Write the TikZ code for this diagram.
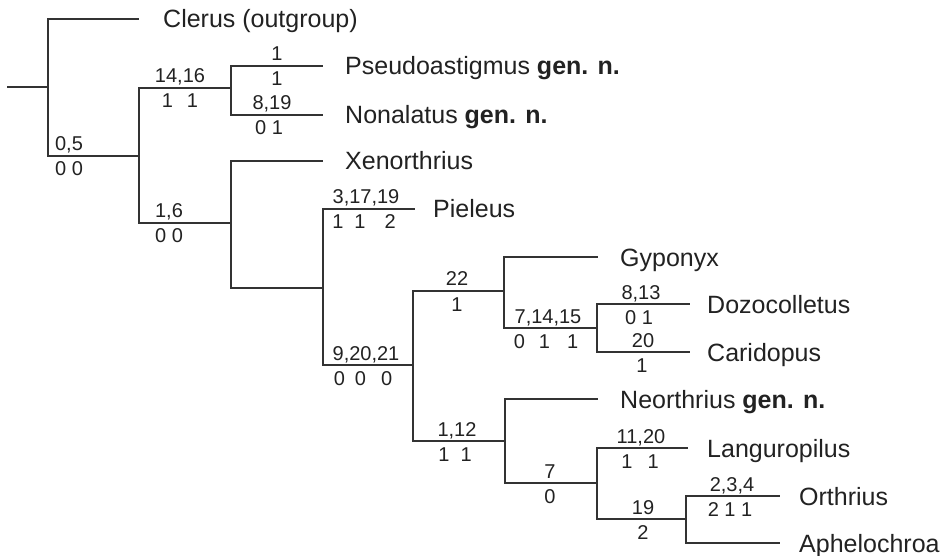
\documentclass[tikz,border=0pt]{standalone}
\usepackage{fontspec}
\setmainfont{Liberation Sans}
\definecolor{ink}{HTML}{333333}
\definecolor{txt}{HTML}{222222}
\begin{document}
\begin{tikzpicture}[x=1pt,y=-1pt,
  br/.style={draw=ink,line width=1.6pt},
  taxon/.style={anchor=base west,inner sep=0pt,text=txt,font=\fontsize{25}{30}\selectfont},
  num/.style={anchor=base,inner sep=0pt,text=txt,font=\fontsize{20}{24}\selectfont}]
\useasboundingbox[fill=white] (0,0) rectangle (948,556);
% internal nodes
\coordinate (r0) at (7,87);
\coordinate (n0) at (48,87);
\coordinate (n1) at (139,156);
\coordinate (n2) at (231,88);
\coordinate (n3) at (231,223);
\coordinate (n4) at (323,288);
\coordinate (n5) at (413,365);
\coordinate (n6) at (504,291);
\coordinate (n8) at (597,328);
\coordinate (n7) at (505,441);
\coordinate (n9) at (597,483);
\coordinate (n10) at (686,519);
% leaf ends
\coordinate (lClerus) at (139,19);
\coordinate (lPseudo) at (323,66);
\coordinate (lNonal) at (323,115);
\coordinate (lXeno) at (323,161);
\coordinate (lPiel) at (415,209);
\coordinate (lGypo) at (598,257);
\coordinate (lDozo) at (690,304);
\coordinate (lCari) at (690,352);
\coordinate (lNeor) at (598,399);
\coordinate (lLang) at (688,448);
\coordinate (lOrth) at (780,496);
\coordinate (lAphe) at (780,543);
% branches
\draw[br] (r0) -- (n0);
\draw[br] (n0) |- (lClerus);
\draw[br] (n0) |- (n1);
\draw[br] (n1) |- (n2);
\draw[br] (n1) |- (n3);
\draw[br] (n2) |- (lPseudo);
\draw[br] (n2) |- (lNonal);
\draw[br] (n3) |- (lXeno);
\draw[br] (n3) |- (n4);
\draw[br] (n4) |- (lPiel);
\draw[br] (n4) |- (n5);
\draw[br] (n5) |- (n6);
\draw[br] (n5) |- (n7);
\draw[br] (n6) |- (lGypo);
\draw[br] (n6) |- (n8);
\draw[br] (n8) |- (lDozo);
\draw[br] (n8) |- (lCari);
\draw[br] (n7) |- (lNeor);
\draw[br] (n7) |- (n9);
\draw[br] (n9) |- (lLang);
\draw[br] (n9) |- (n10);
\draw[br] (n10) |- (lOrth);
\draw[br] (n10) |- (lAphe);
% taxa
\node[taxon] (tClerus) at ([xshift=24pt,yshift=-9pt]lClerus) {Clerus (outgroup)};
\node[taxon] (tPseudo) at ([xshift=22pt,yshift=-9pt]lPseudo) {Pseudoastigmus \textbf{gen. n.}};
\node[taxon] (tNonal) at ([xshift=22pt,yshift=-9pt]lNonal) {Nonalatus \textbf{gen. n.}};
\node[taxon] (tXeno) at ([xshift=22pt,yshift=-9pt]lXeno) {Xenorthrius};
\node[taxon] (tPiel) at ([xshift=18pt,yshift=-9pt]lPiel) {Pieleus};
\node[taxon] (tGypo) at ([xshift=22pt,yshift=-9pt]lGypo) {Gyponyx};
\node[taxon] (tDozo) at ([xshift=17pt,yshift=-9pt]lDozo) {Dozocolletus};
\node[taxon] (tCari) at ([xshift=17pt,yshift=-9pt]lCari) {Caridopus};
\node[taxon] (tNeor) at ([xshift=22pt,yshift=-9pt]lNeor) {Neorthrius \textbf{gen. n.}};
\node[taxon] (tLang) at ([xshift=19pt,yshift=-9pt]lLang) {Languropilus};
\node[taxon] (tOrth) at ([xshift=19pt,yshift=-9pt]lOrth) {Orthrius};
\node[taxon] (tAphe) at ([xshift=19pt,yshift=-9pt]lAphe) {Aphelochroa};
% character labels (above: baseline 5 above branch; below: baseline 20 below)
\node[num] (a05) at (69,151) {0,5};
\node[num] (b05) at (69,176) {0 0};
\node[num] (a1416) at (180,83) {14,16};
\node[num] (b1416) at (180,108) {1\hspace{14pt}1};
\node[num] (aPs) at (277,61) {1};
\node[num] (bPs) at (277,86) {1};
\node[num] (a819) at (272,110) {8,19};
\node[num] (b819) at (269,135) {0 1};
\node[num] (a16) at (169,218) {1,6};
\node[num] (b16) at (169,243) {0 0};
\node[num] (a31719) at (366,204) {3,17,19};
\node[num] (b31719) at (364,229) {1\hspace{11pt}1\hspace{19pt}2};
\node[num] (a92021) at (366,360) {9,20,21};
\node[num] (b92021) at (363,385) {0\hspace{10pt}0\hspace{15pt}0};
\node[num] (a22) at (457,286) {22};
\node[num] (b22) at (457,311) {1};
\node[num] (a71415) at (548,323) {7,14,15};
\node[num] (b71415) at (546,348) {0\hspace{14pt}1\hspace{17pt}1};
\node[num] (a813) at (641,299) {8,13};
\node[num] (b813) at (639,324) {0 1};
\node[num] (a20) at (643,347) {20};
\node[num] (b20) at (642,372) {1};
\node[num] (a112) at (457,436) {1,12};
\node[num] (b112) at (455,461) {1\hspace{11pt}1};
\node[num] (a7) at (550,478) {7};
\node[num] (b7) at (550,503) {0};
\node[num] (a1120) at (641,443) {11,20};
\node[num] (b1120) at (640,468) {1\hspace{15pt}1};
\node[num] (a19) at (643,514) {19};
\node[num] (b19) at (643,539) {2};
\node[num] (a234) at (732,491) {2,3,4};
\node[num] (b234) at (730,516) {2 1 1};
\end{tikzpicture}
\end{document}
